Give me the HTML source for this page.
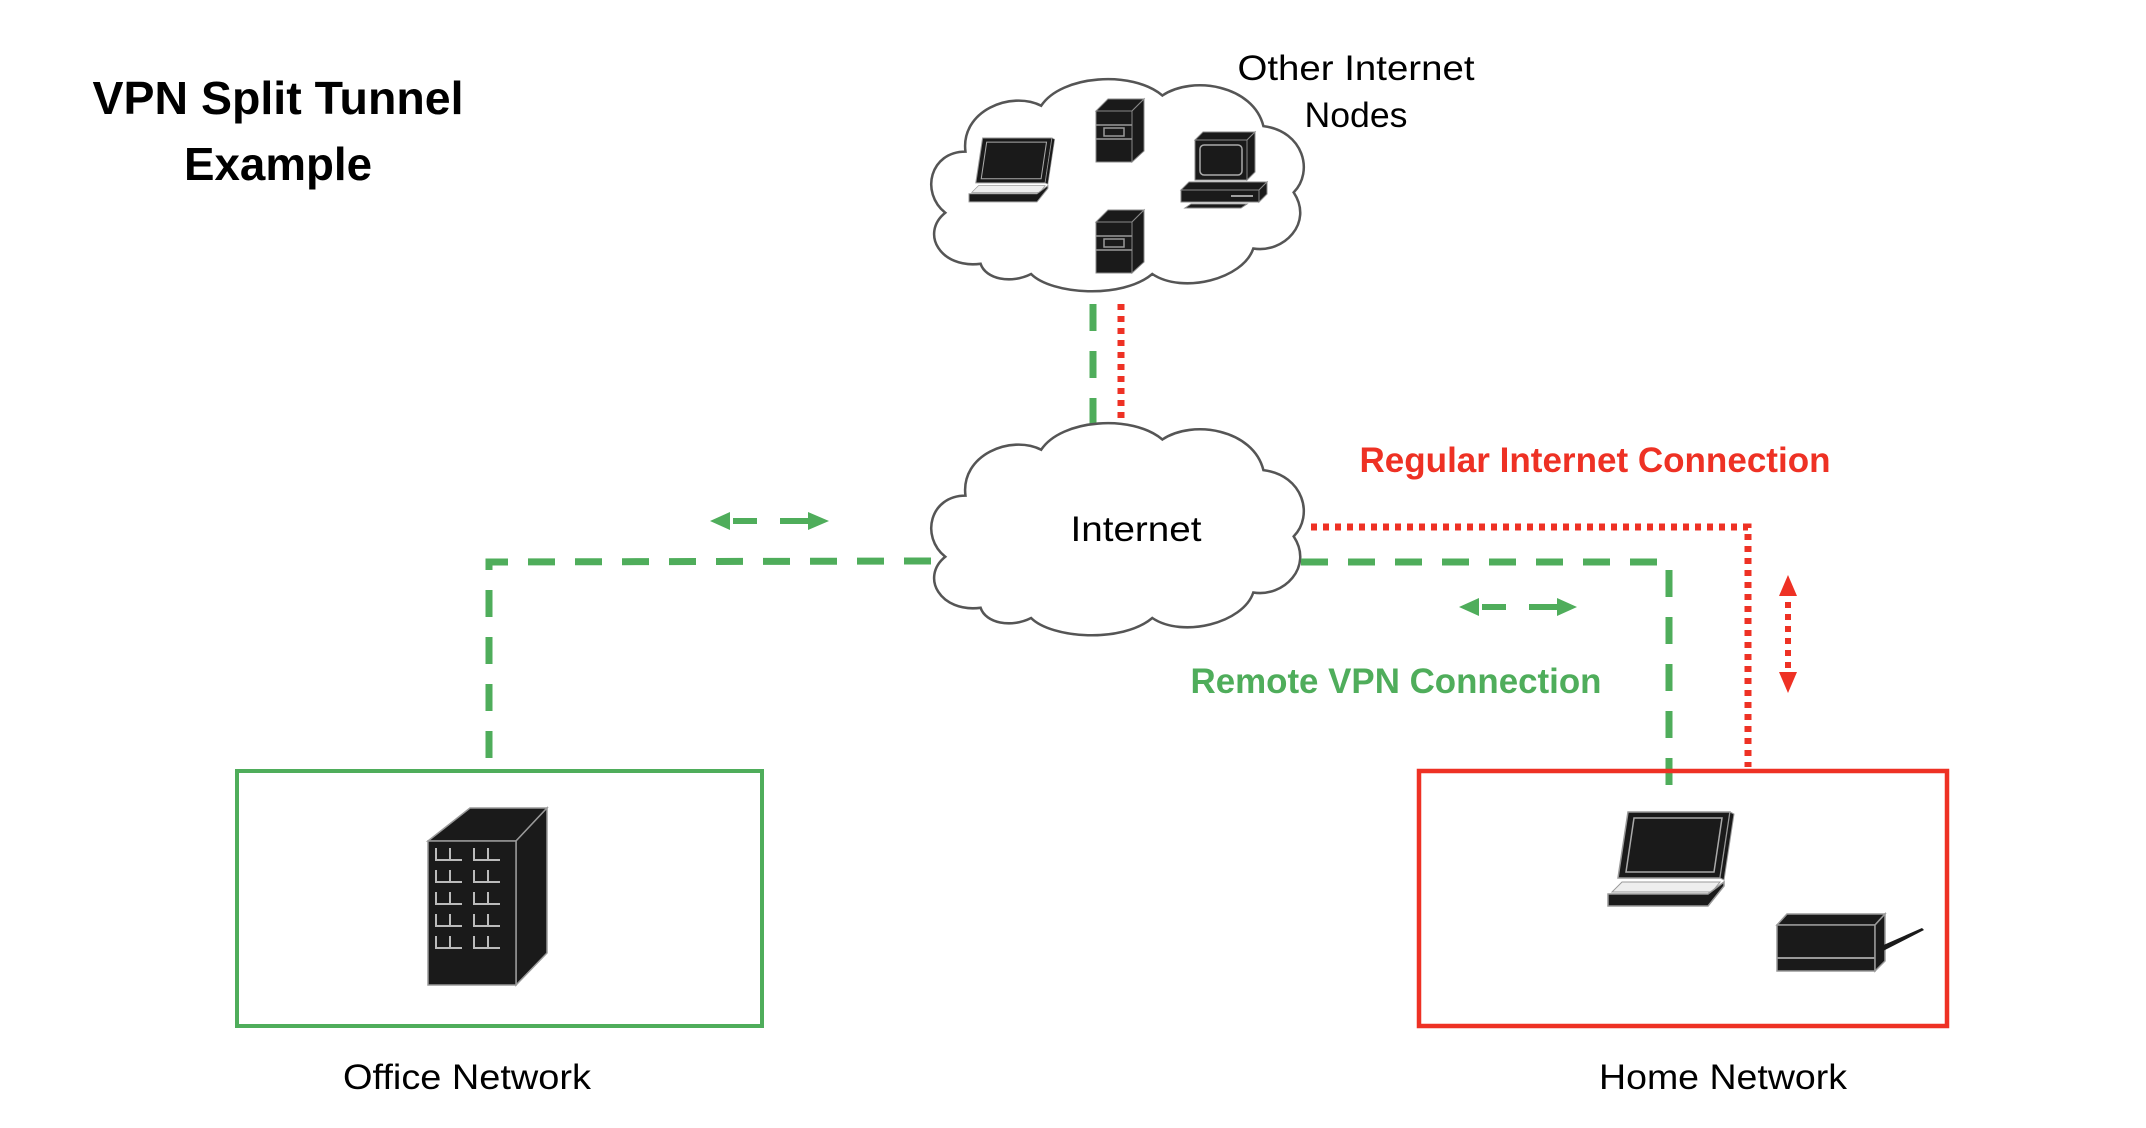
<!DOCTYPE html>
<html><head><meta charset="utf-8"><style>
html,body{margin:0;padding:0;background:#fff;}
svg{display:block;}
text{font-family:"Liberation Sans",sans-serif;}
</style></head><body>
<svg width="2146" height="1128" viewBox="0 0 2146 1128" xmlns="http://www.w3.org/2000/svg">
<defs>
<path id="cloud" d="M 60,190 C 20,195 0,160 25,140 C 0,120 10,80 45,80 C 40,40 90,20 120,35 C 140,5 210,0 240,25 C 270,5 330,15 340,55 C 380,60 390,100 370,120 C 390,150 360,180 330,175 C 320,205 260,220 230,200 C 200,225 130,220 110,200 C 90,210 65,205 60,190 Z"/>
<g id="server">
<polygon points="0,12 12,0 48,0 36,12" fill="#1a1a1a" stroke="#888" stroke-width="1"/>
<polygon points="36,12 48,0 48,52 36,63" fill="#1a1a1a" stroke="#888" stroke-width="1"/>
<rect x="0" y="12" width="36" height="51" fill="#1a1a1a" stroke="#888" stroke-width="1"/>
<line x1="0" y1="26" x2="36" y2="26" stroke="#999" stroke-width="1.5"/>
<line x1="0" y1="40" x2="36" y2="40" stroke="#999" stroke-width="1.5"/>
<rect x="8" y="29" width="20" height="8" fill="none" stroke="#999" stroke-width="1.5"/>
</g>
<g id="laptop">
<polygon points="20,0 122,0 112,66 10,66" fill="#1a1a1a" stroke="#999" stroke-width="1.5"/>
<polygon points="26,6 114,6 106,60 18,60" fill="none" stroke="#aaa" stroke-width="1.5"/>
<polygon points="122,0 126,2 116,68 112,66" fill="#1a1a1a" stroke="#999" stroke-width="1"/>
<polygon points="14,70 112,70 104,80 4,80" fill="#eee" stroke="#999" stroke-width="1"/>
<polygon points="0,82 100,82 116,70 116,74 100,94 0,94" fill="#1a1a1a" stroke="#999" stroke-width="1.5"/>
</g>
</defs>

<text x="278" y="114" font-size="46" font-weight="bold" text-anchor="middle" textLength="371" lengthAdjust="spacingAndGlyphs">VPN Split Tunnel</text>
<text x="278" y="180" font-size="46" font-weight="bold" text-anchor="middle" textLength="188" lengthAdjust="spacingAndGlyphs">Example</text>

<g transform="translate(920,70) scale(1.01,1.02)"><use href="#cloud" fill="#fff" stroke="#555" stroke-width="2.5"/></g>
<text x="1356" y="80" font-size="35" text-anchor="middle" textLength="237" lengthAdjust="spacingAndGlyphs">Other Internet</text>
<text x="1356" y="127" font-size="35" text-anchor="middle" textLength="103" lengthAdjust="spacingAndGlyphs">Nodes</text>
<g transform="translate(969,138) scale(0.68,0.68)"><use href="#laptop"/></g>
<g transform="translate(1096,99)"><use href="#server"/></g>
<g transform="translate(1096,210)"><use href="#server"/></g>
<g transform="translate(1181,132)">
<polygon points="14,8 22,0 74,0 66,8" fill="#1a1a1a" stroke="#888"/>
<polygon points="66,8 74,0 74,40 66,48" fill="#1a1a1a" stroke="#888"/>
<rect x="14" y="8" width="52" height="40" fill="#1a1a1a" stroke="#888"/>
<rect x="19" y="13" width="42" height="30" rx="4" fill="none" stroke="#aaa" stroke-width="1.5"/>
<polygon points="0,58 8,50 86,50 78,58" fill="#1a1a1a" stroke="#888"/>
<rect x="0" y="58" width="78" height="12" fill="#1a1a1a" stroke="#888"/>
<polygon points="78,58 86,50 86,62 78,70" fill="#1a1a1a" stroke="#888"/>
<line x1="50" y1="64" x2="72" y2="64" stroke="#ccc" stroke-width="1.5"/>
<polygon points="4,76 60,76 66,72 10,72" fill="#1a1a1a" stroke="#888"/>
</g>

<line x1="1093" y1="304" x2="1093" y2="424" stroke="#4fad5b" stroke-width="7" stroke-dasharray="27,20"/>
<line x1="1121" y1="304" x2="1121" y2="418" stroke="#ee3124" stroke-width="7" stroke-dasharray="6,6"/>

<g transform="translate(920,414) scale(1.01,1.02)"><use href="#cloud" fill="#fff" stroke="#555" stroke-width="2.5"/></g>
<text x="1136" y="541" font-size="35" text-anchor="middle" textLength="131" lengthAdjust="spacingAndGlyphs">Internet</text>

<polyline points="931,561 489,562 489,767" fill="none" stroke="#4fad5b" stroke-width="7" stroke-dasharray="27,20"/>
<polyline points="1301,562 1669,562 1669,790" fill="none" stroke="#4fad5b" stroke-width="7" stroke-dasharray="27,20"/>
<polyline points="1311,527 1748,527 1748,767" fill="none" stroke="#ee3124" stroke-width="7" stroke-dasharray="6,6"/>

<g stroke="#4fad5b" fill="#4fad5b">
<polygon points="710,521 730,512 730,530" stroke="none"/>
<line x1="733" y1="521" x2="757" y2="521" stroke-width="6"/>
<line x1="780" y1="521" x2="808" y2="521" stroke-width="6"/>
<polygon points="829,521 808,512 808,530" stroke="none"/>
</g>
<g stroke="#4fad5b" fill="#4fad5b">
<polygon points="1459,607 1479,598 1479,616" stroke="none"/>
<line x1="1482" y1="607" x2="1506" y2="607" stroke-width="6"/>
<line x1="1529" y1="607" x2="1557" y2="607" stroke-width="6"/>
<polygon points="1577,607 1557,598 1557,616" stroke="none"/>
</g>
<polygon points="1788,575 1779,596 1797,596" fill="#ee3124"/>
<line x1="1788" y1="602" x2="1788" y2="672" stroke="#ee3124" stroke-width="6" stroke-dasharray="6,6"/>
<polygon points="1788,693 1779,672 1797,672" fill="#ee3124"/>

<text x="1595" y="472" font-size="35" font-weight="bold" fill="#ee3124" text-anchor="middle" textLength="471" lengthAdjust="spacingAndGlyphs">Regular Internet Connection</text>
<text x="1396" y="693" font-size="35" font-weight="bold" fill="#4fad5b" text-anchor="middle" textLength="411" lengthAdjust="spacingAndGlyphs">Remote VPN Connection</text>

<rect x="237" y="771" width="525" height="255" fill="none" stroke="#4fad5b" stroke-width="4"/>
<rect x="1419" y="771" width="528" height="255" fill="none" stroke="#ee3124" stroke-width="4.5"/>

<g transform="translate(428,808)">
<polygon points="0,33 42,0 119,0 88,33" fill="#1a1a1a" stroke="#999" stroke-width="1.5"/>
<polygon points="88,33 119,0 119,145 88,177" fill="#1a1a1a" stroke="#999" stroke-width="1.5"/>
<rect x="0" y="33" width="88" height="144" fill="#1a1a1a" stroke="#999" stroke-width="1.5"/>
<g stroke="#bbb" stroke-width="2" fill="none">
<path d="M8,40v12h14 M22,40v12h12 M46,40v12h14 M60,40v12h12"/>
<path d="M8,62v12h14 M22,62v12h12 M46,62v12h14 M60,62v12h12"/>
<path d="M8,84v12h14 M22,84v12h12 M46,84v12h14 M60,84v12h12"/>
<path d="M8,106v12h14 M22,106v12h12 M46,106v12h14 M60,106v12h12"/>
<path d="M8,128v12h14 M22,128v12h12 M46,128v12h14 M60,128v12h12"/>
</g>
</g>

<g transform="translate(1608,812)"><use href="#laptop"/></g>
<g transform="translate(1777,913)">
<polygon points="0,12 10,1 108,1 98,12" fill="#1a1a1a" stroke="#999" stroke-width="1.5"/>
<rect x="0" y="12" width="98" height="46" fill="#1a1a1a" stroke="#999" stroke-width="1.5"/>
<line x1="0" y1="45" x2="98" y2="45" stroke="#999" stroke-width="2"/>
<polygon points="98,12 108,1 108,48 98,58" fill="#1a1a1a" stroke="#999" stroke-width="1.5"/>
<polygon points="102,34 145,15 147,17 106,38" fill="#1a1a1a"/>
</g>

<text x="467" y="1089" font-size="35" text-anchor="middle" textLength="248" lengthAdjust="spacingAndGlyphs">Office Network</text>
<text x="1723" y="1089" font-size="35" text-anchor="middle" textLength="248" lengthAdjust="spacingAndGlyphs">Home Network</text>
</svg>
</body></html>
